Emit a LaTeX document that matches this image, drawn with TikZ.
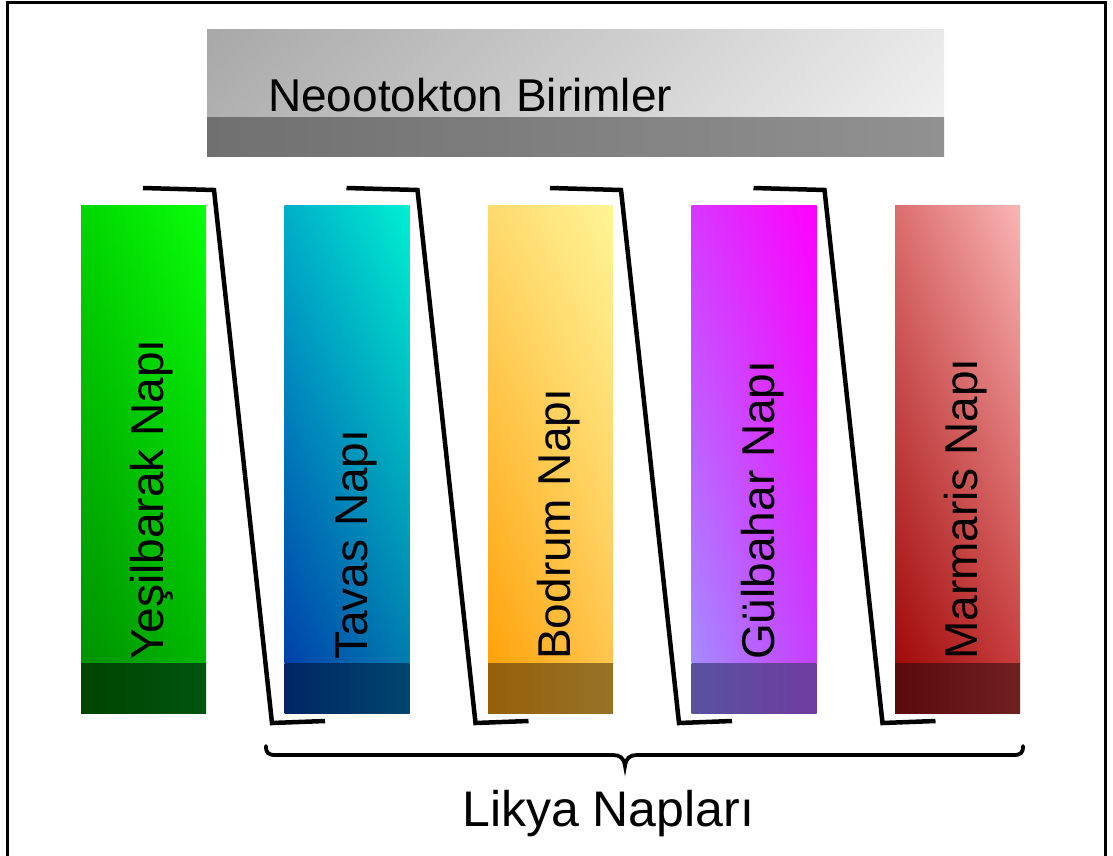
\documentclass[tikz,border=0pt]{standalone}
\usepackage{fontspec}
\setmainfont{Liberation Sans}
\usetikzlibrary{shadings}

% Column fills: upper-left, upper-right, lower-left, lower-right, band-left, band-right
\definecolor{gUL}{RGB}{0,215,0}    \definecolor{gUR}{RGB}{10,255,10}
\definecolor{gLL}{RGB}{0,145,0}    \definecolor{gLR}{RGB}{0,185,0}
\definecolor{gBL}{RGB}{0,68,0}     \definecolor{gBR}{RGB}{0,85,15}
\definecolor{tUL}{RGB}{0,175,200}  \definecolor{tUR}{RGB}{0,240,210}
\definecolor{tLL}{RGB}{0,65,170}   \definecolor{tLR}{RGB}{0,125,175}
\definecolor{tBL}{RGB}{0,38,100}   \definecolor{tBR}{RGB}{0,70,110}
\definecolor{bUL}{RGB}{255,218,110}\definecolor{bUR}{RGB}{255,245,150}
\definecolor{bLL}{RGB}{255,162,10} \definecolor{bLR}{RGB}{255,198,80}
\definecolor{bBL}{RGB}{150,95,10}  \definecolor{bBR}{RGB}{150,115,40}
\definecolor{pUL}{RGB}{215,55,255} \definecolor{pUR}{RGB}{255,0,255}
\definecolor{pLL}{RGB}{165,140,255}\definecolor{pLR}{RGB}{200,60,255}
\definecolor{pBL}{RGB}{88,82,160}  \definecolor{pBR}{RGB}{112,60,160}
\definecolor{rUL}{RGB}{220,110,110}\definecolor{rUR}{RGB}{250,182,182}
\definecolor{rLL}{RGB}{160,10,10}  \definecolor{rLR}{RGB}{200,62,62}
\definecolor{rBL}{RGB}{90,10,10}   \definecolor{rBR}{RGB}{112,32,32}
\definecolor{hUL}{RGB}{168,168,168}\definecolor{hUR}{RGB}{233,233,233}
\definecolor{hLL}{RGB}{176,176,176}\definecolor{hLR}{RGB}{240,240,240}
\definecolor{hBL}{RGB}{112,112,112}\definecolor{hBR}{RGB}{145,145,145}

\tikzset{
  frameline/.style={line width=3pt, black},
  bracketline/.style={line width=4.5pt, black, line join=miter, line cap=butt},
  braceline/.style={line width=3.8pt, black, line cap=round},
  collabel/.style={rotate=90, anchor=base west, inner sep=0pt,
    font=\fontsize{46}{50}\selectfont},
  biglabel/.style={anchor=base west, inner sep=0pt,
    font=\fontsize{46}{50}\selectfont}
}

% #1 left x, #2 colour prefix, #3 label, #4 name
\newcommand\napcolumn[4]{%
  \shade[upper left=#2UL, upper right=#2UR, lower left=#2LL, lower right=#2LR]
    (#1,205) rectangle ++(125,458);
  \shade[upper left=#2BL, upper right=#2BR, lower left=#2BL, lower right=#2BR]
    (#1,663) rectangle ++(125,50);
  \coordinate (#4) at (#1+62.5,205);
  \node[collabel] (#4-text) at (#1+82.5,660) {#3};
}

% #1 x offset, #2 name
\newcommand\slantbracket[2]{%
  \coordinate (#2-a) at (#1+143,188);
  \coordinate (#2-b) at (#1+214,190);
  \coordinate (#2-c) at (#1+272,723);
  \coordinate (#2-d) at (#1+325,721);
  \draw[bracketline] (#2-a) -- (#2-b) -- (#2-c) -- (#2-d);
}

\begin{document}
\begin{tikzpicture}[x=1pt, y=-1pt]
  \useasboundingbox (0,0) rectangle (1113,856);
  \fill[white] (0,0) rectangle (1113,856);

  % outer frame
  \draw[frameline] (7,860) -- (7,2.5) -- (1105,2.5) -- (1105,860);

  % header bar
  \shade[upper left=hUL, upper right=hUR, lower left=hLL, lower right=hLR]
    (207,30) rectangle (944,118);
  \shade[upper left=hBL, upper right=hBR, lower left=hBL, lower right=hBR]
    (207,118) rectangle (944,156);
  \node[biglabel] (neo) at (268,112) {Neootokton Birimler};

  % nappe columns
  \napcolumn{81}{g}{Yeşilbarak Napı}{yesil}
  \napcolumn{284.5}{t}{Tavas Napı}{tavas}
  \napcolumn{488}{b}{Bodrum Napı}{bodrum}
  \napcolumn{691.5}{p}{Gülbahar Napı}{gulbahar}
  \napcolumn{895}{r}{Marmaris Napı}{marmaris}

  % thrust contacts between the columns
  \slantbracket{0}{c1}
  \slantbracket{203.5}{c2}
  \slantbracket{407}{c3}
  \slantbracket{610.5}{c4}

  % brace over the Lycian nappes
  \coordinate (brL) at (266,746);
  \coordinate (brM) at (625,766);
  \coordinate (brR) at (1023,746);
  \draw[braceline] (brL) .. controls (266,753) and (268,755) .. (276,755)
    -- (613,755) .. controls (620,755) and (624,758) .. (brM)
    .. controls (626,758) and (630,755) .. (637,755)
    -- (1013,755) .. controls (1021,755) and (1023,753) .. (brR);
  \node[biglabel, font=\fontsize{50}{55}\selectfont] (likya) at (462,826) {Likya Napları};
\end{tikzpicture}
\end{document}
